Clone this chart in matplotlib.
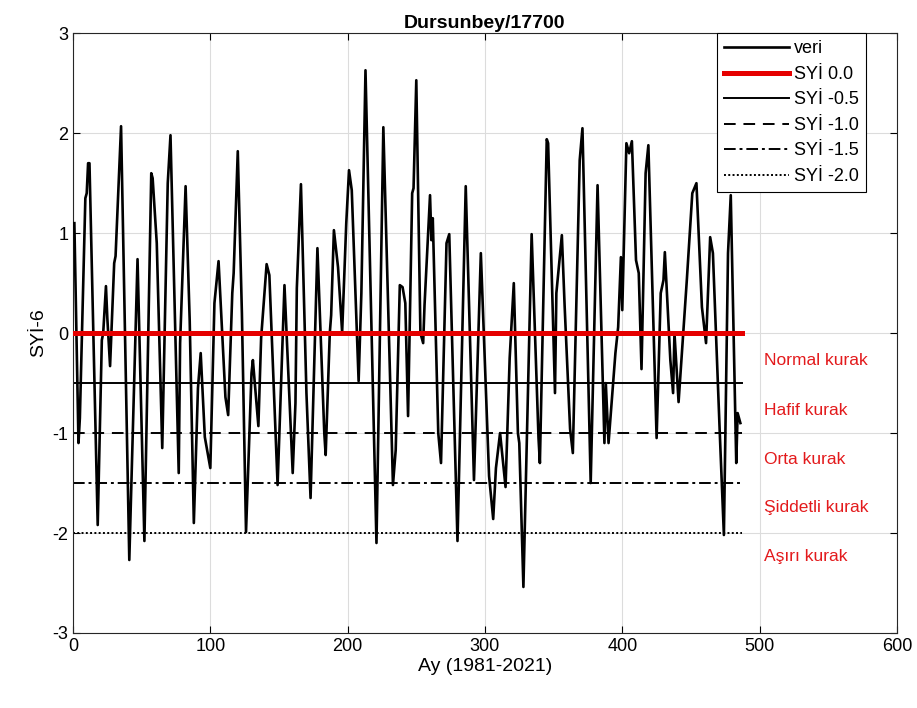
import matplotlib
matplotlib.use("Agg")
import matplotlib.pyplot as plt

plt.rcParams["font.family"] = ["Liberation Sans", "DejaVu Sans"]
plt.rcParams["axes.unicode_minus"] = False

# turning points of the SYİ-6 series (month, value)
month = [1, 4, 5, 9, 10, 11, 12, 18, 21, 22, 24, 25, 27, 30, 31, 35, 41, 47, 52,
         57, 58, 61, 65, 69, 71, 77, 78, 82, 85, 88, 91, 93, 96, 100, 103, 106,
         111, 113, 116, 117, 120, 123, 126, 130, 131, 135, 137, 141, 143, 149,
         154, 160, 162, 163, 166, 170, 173, 178, 183, 184, 187, 188, 190, 193,
         196, 199, 201, 203, 208, 210, 213, 221, 226, 233, 235, 238, 240, 242,
         244, 247, 248, 250, 253, 255, 256, 260, 261, 262, 266, 268, 272, 274,
         280, 286, 292, 297, 303, 306, 308, 311, 315, 318, 321, 324, 325, 328,
         334, 339, 340, 345, 346, 351, 352, 356, 358, 362, 364, 369, 371, 377,
         382, 387, 388, 390, 395, 397, 399, 400, 403, 405, 407, 410, 412, 414,
         417, 419, 425, 428, 430, 431, 435, 437, 438, 441, 447, 451, 454, 458,
         461, 464, 466, 471, 474, 477, 479, 483, 484, 486]
syi = [1.10, -1.10, -0.85, 1.35, 1.40, 1.70, 1.70, -1.92, -0.07, 0.00, 0.47,
       0.15, -0.33, 0.70, 0.77, 2.07, -2.27, 0.74, -2.08, 1.60, 1.55, 0.90,
       -1.15, 1.50, 1.98, -1.40, -0.10, 1.47, 0.12, -1.90, -0.55, -0.20,
       -1.04, -1.35, 0.30, 0.72, -0.64, -0.82, 0.40, 0.60, 1.82, 0.20, -1.99,
       -0.40, -0.27, -0.93, -0.05, 0.69, 0.58, -1.52, 0.48, -1.40, -0.70,
       0.45, 1.49, -0.60, -1.65, 0.85, -1.00, -1.22, 0.00, 0.18, 1.03, 0.66,
       0.01, 1.10, 1.63, 1.43, -0.48, 0.40, 2.63, -2.10, 2.06, -1.52, -1.17,
       0.48, 0.46, 0.30, -0.83, 1.40, 1.45, 2.53, 0.00, -0.10, 0.28, 1.38,
       0.93, 1.15, -1.00, -1.30, 0.90, 0.99, -2.08, 1.47, -1.47, 0.80, -1.43,
       -1.86, -1.35, -1.00, -1.54, -0.25, 0.50, -1.00, -1.10, -2.54, 0.99,
       -1.05, -1.30, 1.94, 1.90, -0.60, 0.40, 0.98, 0.28, -0.96, -1.20, 1.73,
       2.05, -1.50, 1.48, -1.10, -0.50, -1.10, -0.20, 0.06, 0.76, 0.23, 1.90,
       1.80, 1.92, 0.73, 0.60, -0.36, 1.60, 1.88, -1.05, 0.40, 0.53, 0.81,
       -0.27, -0.60, 0.00, -0.69, 0.53, 1.40, 1.50, 0.26, -0.10, 0.96, 0.80,
       -1.00, -2.02, 0.80, 1.38, -1.30, -0.80, -0.90]

thresholds = [0.0, -0.5, -1.0, -1.5, -2.0]
thr_labels = ["SYİ 0.0", "SYİ -0.5", "SYİ -1.0", "SYİ -1.5", "SYİ -2.0"]
thr_styles = [("-", 3.6, "#e60000"), ("-", 1.4, "black"), ((0, (6, 4)), 1.4, "black"),
              ((0, (6, 2, 1.5, 2)), 1.4, "black"), ((0, (1, 1.2)), 1.4, "black")]

classes = ["Normal kurak", "Hafif kurak", "Orta kurak", "Şiddetli kurak", "Aşırı kurak"]
class_y = [-0.27, -0.77, -1.26, -1.74, -2.24]

fig = plt.figure(figsize=(9.17, 7.08), dpi=100)
ax = fig.add_axes([0.0796, 0.106, 0.8985, 0.847])

ax.plot(month, syi, color="black", lw=1.9, label="veri", zorder=3)
x_end = max(month) + 1
for t, lab, (ls, lw, c) in zip(thresholds, thr_labels, thr_styles):
    ax.plot([0, x_end], [t, t], linestyle=ls, lw=lw, color=c, label=lab,
            zorder=4 if t == 0 else 2)

for txt, yy in zip(classes, class_y):
    ax.text(503, yy, txt, color="#e31a1c", fontsize=12.5, va="center", ha="left")

ax.set_xlim(0, 600)
ax.set_ylim(-3, 3)
ax.set_xticks(range(0, 601, 100))
ax.set_yticks(range(-3, 4))
ax.grid(True, color="#dcdcdc", lw=0.8)
ax.set_axisbelow(True)
ax.tick_params(direction="in", top=True, right=True, labelsize=13, length=5)
for s in ax.spines.values():
    s.set_color("#262626")
    s.set_linewidth(0.8)

ax.set_title("Dursunbey/17700", fontsize=14, fontweight="bold", pad=4)
ax.set_xlabel("Ay (1981-2021)", fontsize=14, labelpad=2)
ax.set_ylabel("SYİ-6", fontsize=14, labelpad=4)

leg = ax.legend(loc="upper right", fontsize=13, fancybox=False, framealpha=1,
                edgecolor="black", borderaxespad=0.0, handlelength=3.6,
                labelspacing=0.47, borderpad=0.4, handletextpad=0.3)
leg.get_frame().set_linewidth(0.8)
leg.set_bbox_to_anchor((0.963, 1.0), transform=ax.transAxes)

fig.savefig("out.png", dpi=100, facecolor="white")
